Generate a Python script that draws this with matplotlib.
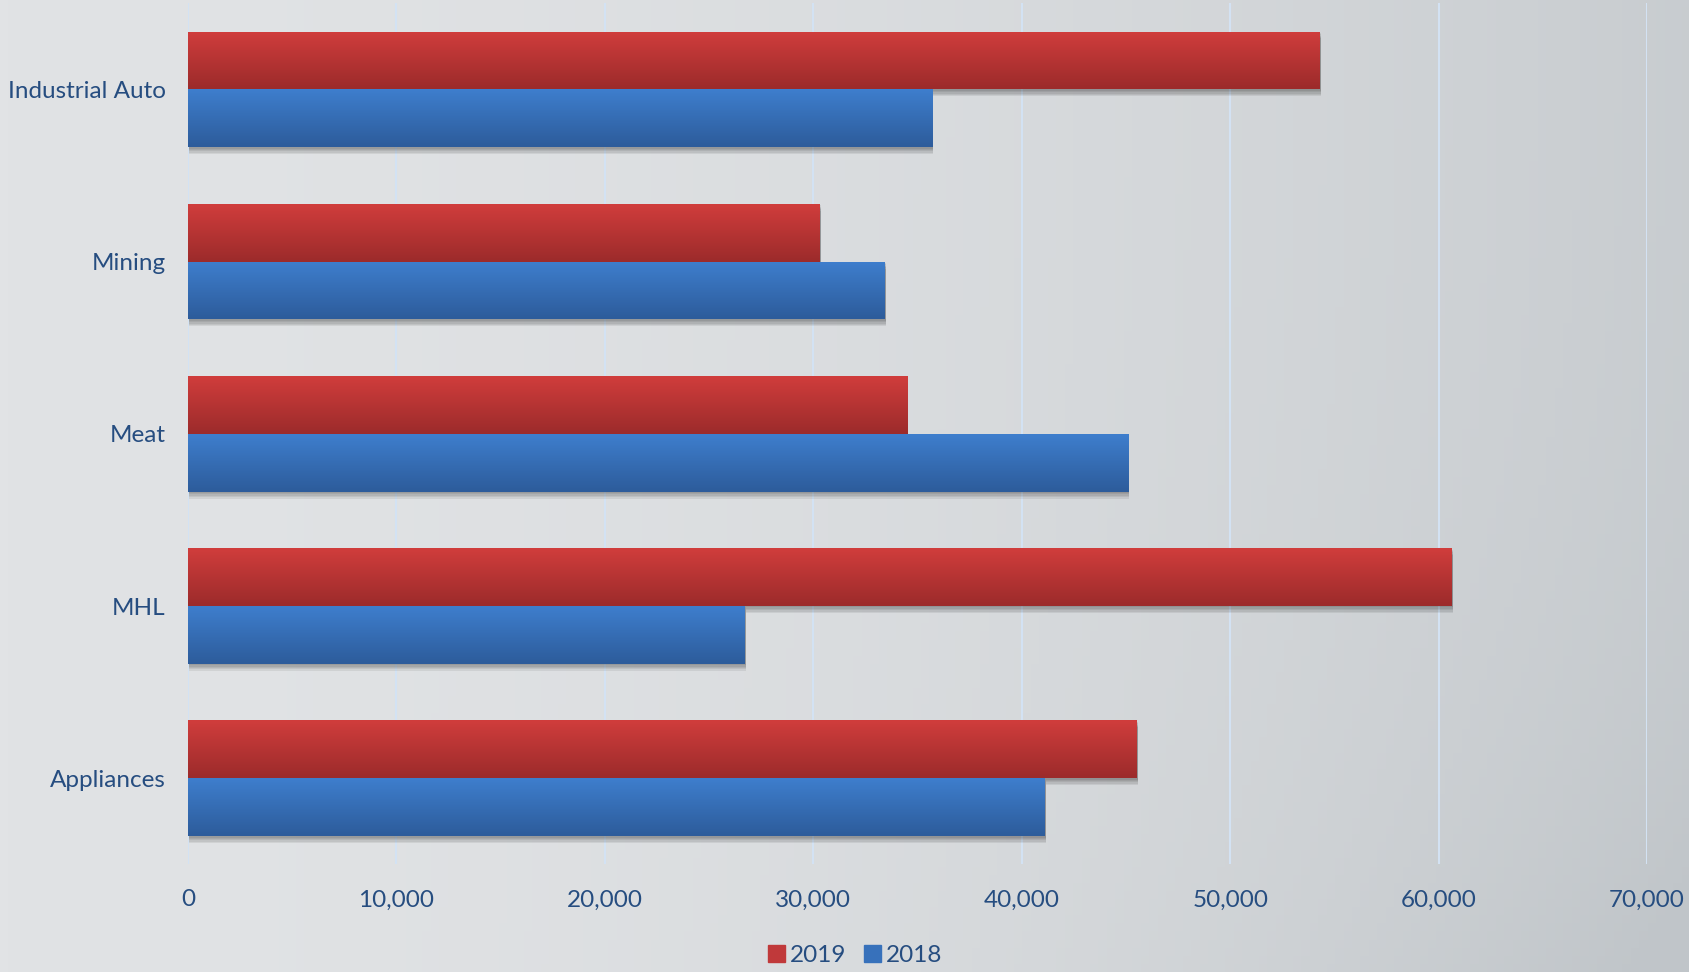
import numpy as np
import matplotlib.pyplot as plt
import matplotlib.patheffects as pe
from matplotlib.colors import to_rgb
from matplotlib.ticker import FuncFormatter

categories = ['Appliances', 'MHL', 'Meat', 'Mining', 'Industrial Auto']
sales_2019 = [45500, 60600, 34500, 30300, 54300]
sales_2018 = [41100, 26700, 45100, 33400, 35700]
x_ticks = [0, 10000, 20000, 30000, 40000, 50000, 60000, 70000]

plt.rcParams['font.family'] = ['Lato', 'DejaVu Sans']
text_color = '#264d80'

fig = plt.figure(figsize=(16.9, 9.72), dpi=100)

# background gradient
bg = fig.add_axes([0, 0, 1, 1], zorder=-10)
gx = np.linspace(0, 1, 200)
gy = np.linspace(0, 1, 120)
GX, GY = np.meshgrid(gx, gy)
t = np.clip(0.75 * GX ** 1.8 + 0.3 * (GX * GY) ** 3, 0, 1)
c0 = np.array(to_rgb('#e1e3e5'))
c1 = np.array(to_rgb('#c0c5c9'))
img = c0 + (c1 - c0) * t[..., None]
bg.imshow(img, aspect='auto', extent=[0, 1, 0, 1], origin='upper')
bg.axis('off')

ax = fig.add_axes([0.1112, 0.1107, 0.8634, 0.8859])
ax.patch.set_alpha(0)

y = np.arange(len(categories))
h = 0.336

# soft shadow made of a few faint offset copies
shadow = [pe.SimplePatchShadow(offset=(1, -d), shadow_rgbFace='k', alpha=0.07) for d in (1, 2, 3, 4, 5)]


def gradient_bars(ypos, values, top, bottom):
    bars = ax.barh(ypos, values, height=h, color=bottom, zorder=2,
                   path_effects=shadow + [pe.Normal()])
    grad = np.linspace(0, 1, 64)[:, None, None]
    cols = np.array(to_rgb(bottom)) + (np.array(to_rgb(top)) - np.array(to_rgb(bottom))) * grad
    for b in bars:
        x0, y0 = b.get_x(), b.get_y()
        im = ax.imshow(cols, aspect='auto', origin='lower', zorder=3,
                       extent=[x0, x0 + b.get_width(), y0, y0 + b.get_height()])
        im.set_clip_path(b)
    return bars


r = gradient_bars(y + h / 2, sales_2019, '#d03d3c', '#9c2b2b')
b = gradient_bars(y - h / 2, sales_2018, '#3e7ecd', '#2d5c9b')

ax.set_xlim(0, 70000)
ax.set_ylim(-0.5, len(categories) - 0.5)
ax.set_xticks(x_ticks)
ax.xaxis.set_major_formatter(FuncFormatter(lambda v, p: f'{int(v):,}'))
ax.set_yticks(y)
ax.set_yticklabels(categories)
ax.tick_params(axis='both', length=0, labelsize=17.5, colors=text_color)
ax.tick_params(axis='x', pad=18)
ax.tick_params(axis='y', pad=16)
ax.grid(axis='x', color='#d3e2f3', linewidth=1.5, zorder=1)
ax.set_axisbelow(True)
for s in ax.spines.values():
    s.set_visible(False)

leg_r = plt.Rectangle((0, 0), 1, 1, color='#c0393a')
leg_b = plt.Rectangle((0, 0), 1, 1, color='#3771bb')
fig.legend([leg_r, leg_b], ['2019', '2018'], loc='lower center', bbox_to_anchor=(0.506, -0.0165),
           ncol=2, frameon=False, fontsize=17.5, labelcolor=text_color,
           handlelength=0.7, handleheight=0.7, handletextpad=0.2, columnspacing=0.7)

plt.savefig('out.png', dpi=100)
